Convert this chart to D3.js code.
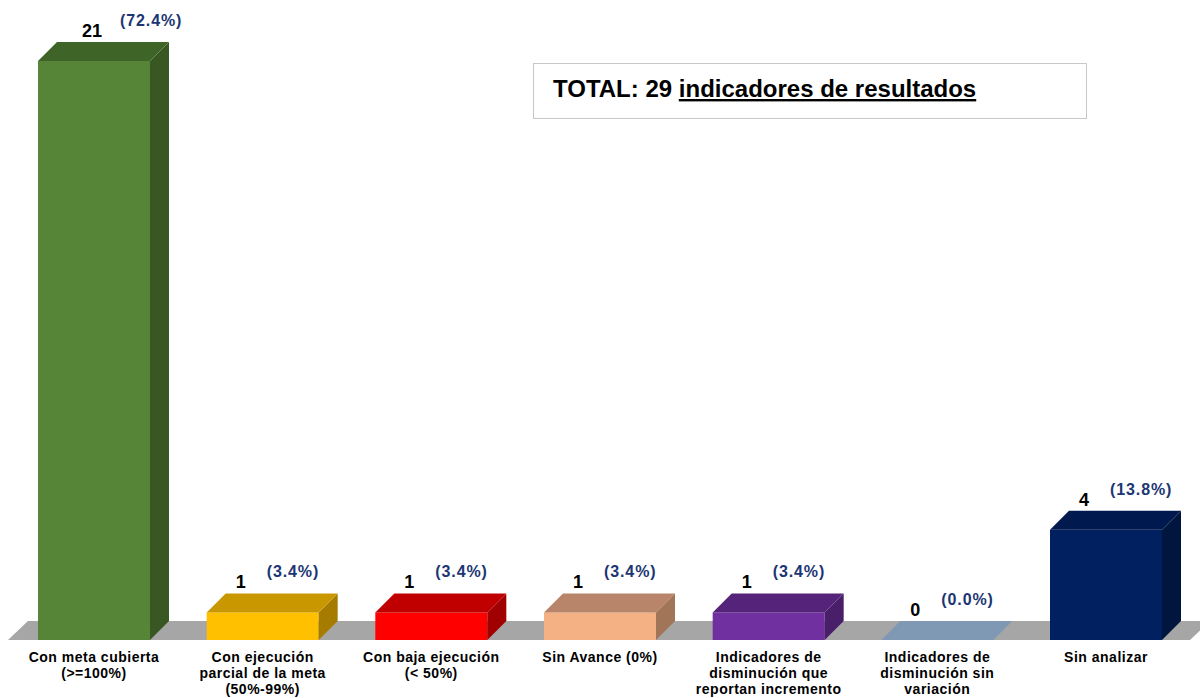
<!DOCTYPE html>
<html>
<head>
<meta charset="utf-8">
<script src="https://cdn.jsdelivr.net/npm/d3@7"></script>
<style>
  body { margin: 0; background: #fff; }
  svg { display: block; font-family: Arial, "Liberation Sans", sans-serif; }
</style>
</head>
<body>
<svg id="chart" width="1200" height="698"></svg>
<script>
// chart data
var categories = [
    ["Con meta cubierta", "(>=100%)"],
    ["Con ejecución", "parcial de la meta", "(50%-99%)"],
    ["Con baja ejecución", "(< 50%)"],
    ["Sin Avance (0%)"],
    ["Indicadores de", "disminución que", "reportan incremento"],
    ["Indicadores de", "disminución sin", "variación"],
    ["Sin analizar"]
];
var values = [21, 1, 1, 1, 1, 0, 4];
var percents = ["(72.4%)", "(3.4%)", "(3.4%)", "(3.4%)", "(3.4%)", "(0.0%)", "(13.8%)"];
var frontColors = ["#578537", "#ffc000", "#ff0000", "#f4b183", "#7030a0", "#7f98b3", "#002060"];
var topColors   = ["#3f6428", "#c99700", "#c00000", "#b8846a", "#55247a", "#7f98b3", "#001a4f"];
var sideColors  = ["#385723", "#a67c00", "#a00000", "#a07558", "#4a1f6a", "#6f87a0", "#00163f"];
var total = 29;

var svg = d3.select("#chart");
var baseY = 640;
var dx = 19, dy = -19;

var x = d3.scaleBand()
    .domain(d3.range(values.length))
    .range([10, 1190])
    .paddingInner(0.336)
    .paddingOuter(0.166);

var y = d3.scaleLinear().domain([0, 21]).range([baseY, 61]);
var bw = x.bandwidth();

// floor
svg.append("polygon")
    .attr("points", [[8, baseY], [8 + dx + 1, baseY + dy], [1210, baseY + dy], [1190, baseY]].join(" "))
    .attr("fill", "#a6a6a6");

var bars = svg.selectAll("g.bar")
    .data(values)
    .enter().append("g")
    .attr("class", "bar");

bars.each(function (v, i) {
    var g = d3.select(this);
    var x0 = x(i), yv = y(v);
    if (v > 0) {
        g.append("rect")
            .attr("x", x0).attr("y", yv)
            .attr("width", bw).attr("height", baseY - yv)
            .attr("fill", frontColors[i]);
        g.append("polygon")
            .attr("points", [[x0 + bw, yv], [x0 + bw + dx, yv + dy], [x0 + bw + dx, baseY + dy], [x0 + bw, baseY]].join(" "))
            .attr("fill", sideColors[i]);
    }
    g.append("polygon")
        .attr("points", [[x0, yv], [x0 + dx, yv + dy], [x0 + bw + dx, yv + dy], [x0 + bw, yv]].join(" "))
        .attr("fill", topColors[i]);
});

// value labels
bars.append("text")
    .attr("x", function (d, i) { return x(i) + bw / 2 - (d >= 10 ? 2 : 22); })
    .attr("y", function (d) { return y(d) + dy - 5; })
    .attr("text-anchor", "middle")
    .attr("font-size", "18px")
    .attr("font-weight", "bold")
    .attr("fill", "#000")
    .text(function (d) { return d; });

// percent labels
bars.append("text")
    .attr("x", function (d, i) { return x(i) + bw / 2 + (d >= 10 ? 26 : 4); })
    .attr("y", function (d) { return y(d) + dy - 16; })
    .attr("font-size", "16px")
    .attr("letter-spacing", "0.9px")
    .attr("font-weight", "bold")
    .attr("fill", "#1c3673")
    .text(function (d, i) { return percents[i]; });

// category labels
var cat = svg.selectAll("text.cat")
    .data(categories)
    .enter().append("text")
    .attr("class", "cat")
    .attr("text-anchor", "middle")
    .attr("font-size", "14px")
    .attr("letter-spacing", "0.5px")
    .attr("font-weight", "bold")
    .attr("fill", "#000");
cat.selectAll("tspan")
    .data(function (d, i) { return d.map(function (s) { return { s: s, i: i }; }); })
    .enter().append("tspan")
    .attr("x", function (d) { return x(d.i) + bw / 2; })
    .attr("y", function (d, j) { return 662 + j * 16; })
    .text(function (d) { return d.s; });

// total box
svg.append("rect")
    .attr("x", 533.5).attr("y", 63.5)
    .attr("width", 553).attr("height", 55)
    .attr("fill", "#fff")
    .attr("stroke", "#c8c8c8");
var t = svg.append("text")
    .attr("x", 553).attr("y", 97)
    .attr("font-size", "24px")
    .attr("font-weight", "bold")
    .attr("fill", "#000");
t.append("tspan").text("TOTAL: " + total + " ");
t.append("tspan").attr("text-decoration", "underline").text("indicadores de resultados");
</script>
</body>
</html>
